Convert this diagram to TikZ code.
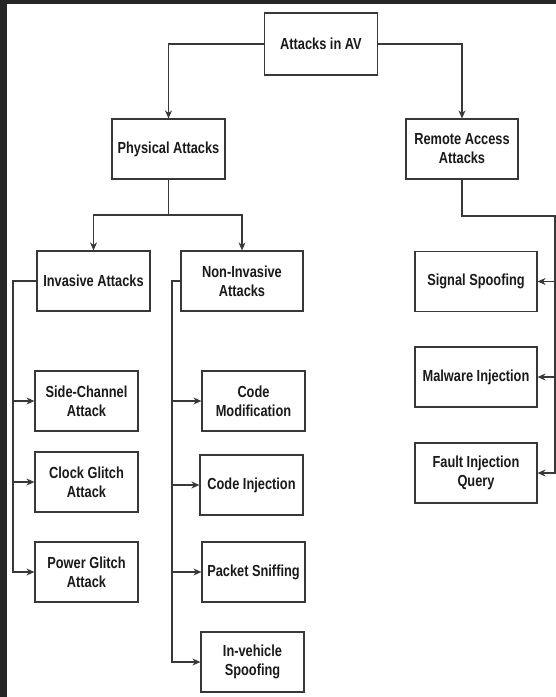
\documentclass[tikz,border=0pt]{standalone}
\usepackage{fontspec}
\setmainfont[FakeStretch=0.80]{Liberation Sans}
\usetikzlibrary{arrows.meta,positioning,calc}
\definecolor{framegray}{HTML}{262626}
\definecolor{boxline}{HTML}{383838}
\definecolor{inkdark}{HTML}{1A1A1A}

\begin{document}
\begin{tikzpicture}[
  x=1pt, y=-1pt,
  attackbox/.style={rectangle, draw=boxline, line width=1.2pt, fill=white, minimum width=103pt, minimum height=60pt, align=center, inner sep=2pt, text=inkdark, font=\fontsize{16}{19}\selectfont\bfseries},
  widebox/.style={attackbox, minimum width=122pt},
  link/.style={-{Stealth[length=8pt,width=7pt]}, line width=1.1pt, draw=boxline},
]
\useasboundingbox (0,0) rectangle (556,697);
\fill[framegray] (0,0) rectangle (556,697);
\fill[white] (7,4) rectangle (556,697);

\node[attackbox, minimum width=113pt, minimum height=62pt] (root) at (321,44) {Attacks in AV};
\node[attackbox, minimum width=113pt] (phys) at (168.5,149) {Physical Attacks};
\node[attackbox, minimum width=112pt] (remote) at (462,149) {Remote Access\\Attacks};

\node[attackbox, minimum width=113pt] (inv) at (93.5,281) {Invasive Attacks};
\node[widebox] (noninv) at (242,281) {Non-Invasive\\Attacks};

\node[attackbox] (side) at (86.5,401) {Side-Channel\\Attack};
\node[attackbox] (clock) at (86.5,482) {Clock Glitch\\Attack};
\node[attackbox] (power) at (86.5,572) {Power Glitch\\Attack};

\node[attackbox] (codemod) at (253.5,401) {Code\\Modification};
\node[attackbox] (codeinj) at (251.5,485) {Code Injection};
\node[attackbox] (packet) at (253.5,572) {Packet Sniffing};
\node[attackbox] (invehicle) at (252.5,662) {In-vehicle\\Spoofing};

\node[widebox] (signal) at (476,281.5) {Signal Spoofing};
\node[widebox] (malware) at (476,377) {Malware Injection};
\node[widebox] (fault) at (476,473) {Fault Injection\\Query};

\draw[link] (root.west) -| (phys.north);
\draw[link] (root.east) -| (remote.north);

\coordinate (physjoin) at (168.5,215);
\draw[link] (phys.south) -- (physjoin) -| (inv.north);
\draw[link] (physjoin) -| (noninv.north);

\coordinate (invbus) at (13,281);
\draw[link] (inv.west) -- (invbus) |- (power.west);
\foreach \n in {side,clock}
  \draw[link] (invbus |- \n.west) -- (\n.west);

\coordinate (noninvbus) at (172,281);
\draw[link] (noninv.west) -- (noninvbus) |- (invehicle.west);
\foreach \n in {codemod,codeinj,packet}
  \draw[link] (noninvbus |- \n.west) -- (\n.west);

\coordinate (remotejoin) at (462,216);
\coordinate (remotebus) at (555,216);
\draw[link] (remote.south) -- (remotejoin) -- (remotebus) |- (fault.east);
\foreach \n in {signal,malware}
  \draw[link] (remotebus |- \n.east) -- (\n.east);
\end{tikzpicture}
\end{document}
